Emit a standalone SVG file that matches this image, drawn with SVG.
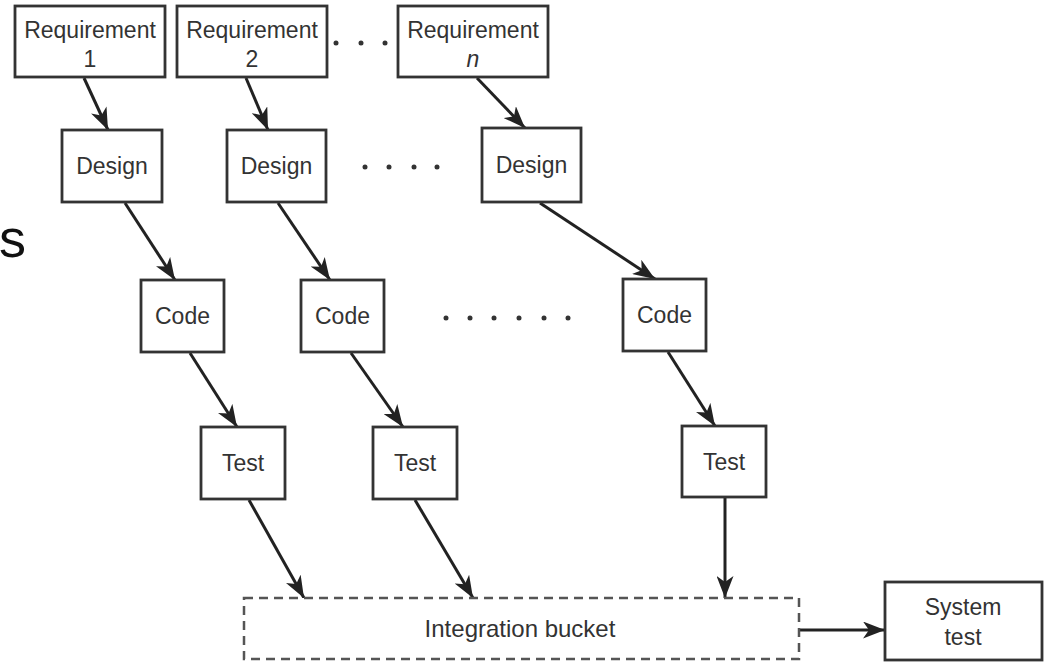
<svg xmlns="http://www.w3.org/2000/svg" width="1046" height="662" viewBox="0 0 1046 662">
<defs>
<style>
.box{fill:#fff;stroke:#333;stroke-width:2.8}
.dash{fill:#fff;stroke:#555;stroke-width:2.5;stroke-dasharray:9 6}
.t{font-family:"Liberation Sans",Arial,sans-serif;font-size:23px;fill:#333;text-anchor:middle}
.c{stroke:#222;stroke-width:3;fill:none;marker-end:url(#ah)}
.dot{fill:#333}
</style>
<marker id="ah" viewBox="0 0 22 17" refX="22" refY="8.5" markerWidth="22" markerHeight="17" markerUnits="userSpaceOnUse" orient="auto">
<path d="M0,0 L22,8.5 L0,17 L6,8.5 Z" fill="#222"/>
</marker>
</defs>
<rect width="1046" height="662" fill="#fff"/>
<text x="-1" y="257" font-family="'Liberation Sans',Arial,sans-serif" font-size="54" fill="#111">s</text>

<g id="connectors">
<line class="c" x1="84" y1="78" x2="108" y2="130"/>
<line class="c" x1="246" y1="78" x2="268" y2="130"/>
<line class="c" x1="477" y1="78" x2="525" y2="128"/>
<line class="c" x1="125" y1="203" x2="175" y2="280"/>
<line class="c" x1="278" y1="203" x2="330" y2="280"/>
<line class="c" x1="540" y1="203" x2="655" y2="279"/>
<line class="c" x1="190" y1="353" x2="237" y2="427"/>
<line class="c" x1="351" y1="353" x2="403" y2="427"/>
<line class="c" x1="668" y1="352" x2="715" y2="426"/>
<line class="c" x1="249" y1="500" x2="304" y2="598"/>
<line class="c" x1="415" y1="500" x2="473" y2="598"/>
<line class="c" x1="725" y1="498" x2="725" y2="598"/>
<line class="c" x1="800" y1="630" x2="885" y2="630"/>
</g>

<g id="req1"><rect class="box" x="15" y="6" width="150" height="71"/><text class="t" x="90" y="38">Requirement</text><text class="t" x="90" y="67">1</text></g>
<g id="req2"><rect class="box" x="177" y="6" width="150" height="71"/><text class="t" x="252" y="38">Requirement</text><text class="t" x="252" y="67">2</text></g>
<g id="reqn"><rect class="box" x="398" y="6" width="150" height="71"/><text class="t" x="473" y="38">Requirement</text><text class="t" x="473" y="67" font-style="italic">n</text></g>

<g id="design1"><rect class="box" x="62" y="130" width="100" height="72"/><text class="t" x="112" y="174">Design</text></g>
<g id="design2"><rect class="box" x="227" y="130" width="99" height="72"/><text class="t" x="276.5" y="174">Design</text></g>
<g id="designn"><rect class="box" x="482" y="128" width="99" height="74"/><text class="t" x="531.5" y="173">Design</text></g>

<g id="code1"><rect class="box" x="141" y="280" width="83" height="72"/><text class="t" x="182.5" y="324">Code</text></g>
<g id="code2"><rect class="box" x="301" y="280" width="83" height="72"/><text class="t" x="342.5" y="324">Code</text></g>
<g id="coden"><rect class="box" x="623" y="279" width="83" height="72"/><text class="t" x="664.5" y="323">Code</text></g>

<g id="test1"><rect class="box" x="201" y="427" width="84" height="72"/><text class="t" x="243" y="471">Test</text></g>
<g id="test2"><rect class="box" x="373" y="427" width="84" height="72"/><text class="t" x="415" y="471">Test</text></g>
<g id="testn"><rect class="box" x="682" y="426" width="84" height="71"/><text class="t" x="724" y="470">Test</text></g>

<g id="bucket"><rect class="dash" x="244" y="598" width="555" height="61"/><text class="t" x="520" y="637" style="font-size:24px">Integration bucket</text></g>
<g id="systemtest"><rect class="box" x="885" y="582" width="157" height="78"/><text class="t" x="963" y="615">System</text><text class="t" x="963" y="645">test</text></g>

<g id="ellipses">
<circle class="dot" cx="336" cy="43" r="2.5"/><circle class="dot" cx="361" cy="43" r="2.5"/><circle class="dot" cx="385" cy="43" r="2.5"/>
<circle class="dot" cx="365" cy="167" r="2.5"/><circle class="dot" cx="389" cy="167" r="2.5"/><circle class="dot" cx="414" cy="167" r="2.5"/><circle class="dot" cx="437" cy="167" r="2.5"/>
<circle class="dot" cx="446" cy="318" r="2.5"/><circle class="dot" cx="470" cy="318" r="2.5"/><circle class="dot" cx="494" cy="318" r="2.5"/><circle class="dot" cx="519" cy="318" r="2.5"/><circle class="dot" cx="544" cy="318" r="2.5"/><circle class="dot" cx="568" cy="318" r="2.5"/>
</g>
</svg>
